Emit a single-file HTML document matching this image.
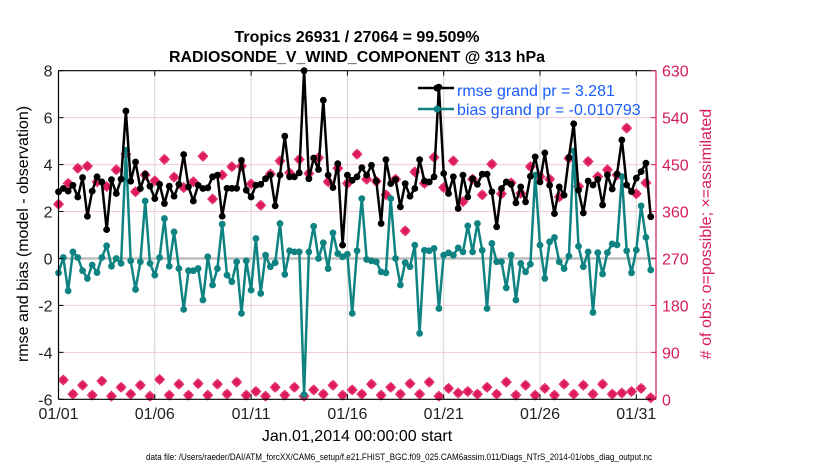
<!DOCTYPE html>
<html><head><meta charset="utf-8"><style>
html,body{margin:0;padding:0;background:#fff;}
svg{display:block;font-family:"Liberation Sans",Arial,sans-serif;}
</style></head><body>
<svg id="chart" width="830" height="470" viewBox="0 0 830 470" xmlns="http://www.w3.org/2000/svg">
<text x="357" y="42" text-anchor="middle" font-size="16" font-weight="bold">Tropics 26931 / 27064 = 99.509%</text>
<text x="357" y="62" text-anchor="middle" font-size="16" font-weight="bold" textLength="376" lengthAdjust="spacingAndGlyphs">RADIOSONDE_V_WIND_COMPONENT @ 313 hPa</text>
<g id="grid"></g>
<g id="series"></g>
<g id="axes"></g>
<text transform="translate(28,234) rotate(-90)" text-anchor="middle" font-size="16">rmse and bias (model - observation)</text>
<text transform="translate(711,234) rotate(-90)" text-anchor="middle" font-size="16" fill="#d81b5a">#  of obs: o=possible; ×=assimilated</text>
<text x="357" y="441" text-anchor="middle" font-size="16">Jan.01,2014 00:00:00 start</text>
<text x="399" y="460" text-anchor="middle" font-size="9" textLength="506" lengthAdjust="spacingAndGlyphs">data file: /Users/raeder/DAI/ATM_forcXX/CAM6_setup/f.e21.FHIST_BGC.f09_025.CAM6assim.011/Diags_NTrS_2014-01/obs_diag_output.nc</text>
<g>
<line x1="418" y1="88" x2="454" y2="88" stroke="#000" stroke-width="2.5"/>
<circle cx="437" cy="88" r="3.5" fill="#000"/>
<text x="457" y="96" font-size="16" fill="#1a5cff">rmse grand pr = 3.281</text>
<line x1="418" y1="109" x2="454" y2="109" stroke="#0f8282" stroke-width="2.5"/>
<circle cx="437" cy="109" r="3.5" fill="#0f8282"/>
<text x="457" y="115" font-size="16" fill="#1a5cff">bias grand pr = -0.010793</text>
</g>
</svg>
<script>
// ---- data (6-hourly, starting Jan 01 00Z) ----
const rmse = [2.84,2.98,2.87,3.12,2.62,3.45,1.80,2.87,3.48,3.26,1.23,3.36,2.77,3.38,6.28,3.29,4.11,2.98,3.59,3.08,2.55,3.16,2.34,3.08,2.65,3.16,4.43,3.05,2.45,3.12,2.98,3.01,3.48,3.55,1.80,2.99,2.99,2.99,4.18,2.91,2.62,3.12,
3.16,3.40,3.55,2.24,3.55,5.21,3.48,3.48,3.65,8.0,3.40,4.28,3.79,6.74,3.55,3.02,4.04,0.57,3.55,3.33,3.48,3.87,3.55,3.97,3.30,1.49,4.21,3.19,3.36,2.20,3.19,2.65,2.98,4.21,3.30,3.26,3.48,7.3,3.62,2.77,
3.48,2.13,3.55,2.62,3.40,3.16,3.59,3.59,2.84,1.35,2.98,3.26,3.16,2.37,3.05,2.41,3.50,4.33,3.26,4.50,3.12,1.91,3.05,2.70,4.30,5.74,2.91,1.94,3.30,
3.13,3.37,2.28,3.56,2.96,3.60,5.05,3.13,2.85,3.42,3.70,4.06,1.78];
const bias = [-0.61,0.04,-1.38,0.28,0.04,-0.52,-0.85,-0.28,-0.60,0.04,0.54,-0.33,0,-0.21,4.61,-0.10,-1.32,-0.14,2.45,-0.21,-0.71,0.04,1.70,-0.33,1.13,-0.43,-2.17,-0.52,-0.52,-0.43,-1.77,0.07,-1.13,-0.43,1.46,-0.71,-0.99,-0.14,-2.34,-0.10,-1.35,0.85,
-1.49,0.14,-0.35,-0.18,1.49,-0.68,0.33,0.28,0.28,-5.8,0.28,1.37,0,0.67,-0.43,1.09,0.21,0.07,0.18,-2.34,0.33,2.55,-0.04,-0.10,-0.14,-0.57,-0.61,2.55,0,-1.13,-0.18,-0.35,0.57,-3.19,0.35,0.33,0.43,-2.13,0.14,0.24,
0.14,0.45,0.28,1.39,0.28,1.49,0.35,-2.13,0.64,-0.14,-0.14,-1.25,0.14,-1.77,-0.21,-0.57,-0.24,3.55,0.57,-0.85,0.71,0.89,-0.14,-0.43,0.10,4.58,0.52,-0.35,0.28,
-2.30,0.25,-0.66,0.25,0.62,0.58,3.49,0.33,-0.61,0.36,2.24,0.90,-0.49];
// obs counts at 00Z/12Z (even steps) and 06Z/18Z (odd steps)
const obsMain = [374,414,443,447,417,408,440,470,398,430,419,460,426,406,417,466,384,430,446,447,413,372,
432,457,434,460,433,463,417,443,414,470,422,418,392,422,323,436,414,464,406,
457,379,422,392,451,394,415,395,446,427,422,388,462,408,456,427,440,430,520,394,415];
const obsOff = [37,10,27,8,35,6,23,10,27,6,38,8,29,8,30,8,29,10,33,8,15,6,23,8,23,6,18,10,27,8,18,10,29,8,23,10,30,10,33,6,21,12,15,10,23,10,33,8,27,8,21,8,29,10,27,10,29,10,12,15,21,3];
const yTicks = [8,6,4,2,0,-2,-4,-6];
const rTicks = [630,540,450,360,270,180,90,0];
const dateTicks = ["01/01","01/06","01/11","01/16","01/21","01/26","01/31"];
const dateTickDays = [0,5,10,15,20,25,30];

// ---- scales ----
const L=58.5, R=656, T=70.7, B=399.3, PXDAY=19.26;
const xDay = d => L + d*PXDAY;
const xStep = i => xDay(i*0.25);
const yL = v => T + (8 - v)*(B-T)/14;
const yR = c => B - c*(B-T)/630;
const NS="http://www.w3.org/2000/svg";
function mk(parent, tag, attrs){const e=document.createElementNS(NS,tag);for(const k in attrs)e.setAttribute(k,attrs[k]);parent.appendChild(e);return e;}
const grid=document.getElementById('grid'), ser=document.getElementById('series'), ax=document.getElementById('axes');

// grid
yTicks.forEach(v=>{ if(v===8||v===-6) return;
  const g=mk(grid,'line',{x1:L,x2:R,y1:yL(v),y2:yL(v),stroke:'#f3cad9','stroke-width':1});
  
  
});
dateTickDays.forEach(d=>{ if(d===0) return;
  const g=mk(grid,'line',{x1:xDay(d),x2:xDay(d),y1:T,y2:B,stroke:'#d4d4d4','stroke-width':1});
  
  
});
const z=mk(grid,'line',{x1:L,x2:R,y1:yL(0),y2:yL(0),stroke:'#bdbdbd','stroke-width':2.5});



// obs markers
function obsMarker(x,y){
  const g=mk(ser,'g',{});
  
  
  mk(g,'path',{d:`M${x} ${y-5.5}L${x+5.5} ${y}L${x} ${y+5.5}L${x-5.5} ${y}Z`,fill:'#dc1a5c'});
  mk(g,'circle',{cx:x,cy:y,r:3.8,fill:'none',stroke:'#e8407a','stroke-width':1});
}
obsMain.forEach((c,k)=>obsMarker(xStep(2*k),yR(c)));
obsOff.forEach((c,k)=>obsMarker(xStep(2*k+1),yR(c)));

// lines
function series(vals,color,name){
  const p=mk(ser,'polyline',{points:vals.map((v,i)=>xStep(i).toFixed(1)+','+yL(v).toFixed(1)).join(' '),fill:'none',stroke:color,'stroke-width':2.5,'stroke-linejoin':'round'});
  
  
  vals.forEach((v,i)=>{
    const c=mk(ser,'circle',{cx:xStep(i),cy:yL(v),r:3.4,fill:color});
    
    
  });
}
series(bias,'#0f8282','bias');
series(rmse,'#000000','rmse');

// axes
const fr=[['M'+L+' '+T+'H'+R,'#000','top-axis-line'],['M'+L+' '+B+'H'+R,'#000','x-axis-line'],['M'+L+' '+T+'V'+B,'#000','left-axis-line'],['M'+R+' '+T+'V'+B,'#d81b5a','right-axis-line']];
fr.forEach(f=>{const p=mk(ax,'path',{d:f[0],stroke:f[1],'stroke-width':1.2,fill:'none'});
  
  });
yTicks.forEach(v=>{
  mk(ax,'line',{x1:L,x2:L+5,y1:yL(v),y2:yL(v),stroke:'#000'});
  const t=mk(ax,'text',{x:L-6,y:yL(v)+6,'text-anchor':'end','font-size':16,fill:'#222'});
  t.textContent=v;
  
  
});
rTicks.forEach(c=>{
  mk(ax,'line',{x1:R-5,x2:R,y1:yR(c),y2:yR(c),stroke:'#d81b5a'});
  const t=mk(ax,'text',{x:R+6,y:yR(c)+6,'font-size':16,fill:'#d81b5a'});
  t.textContent=c;
  
  
});
dateTicks.forEach((lab,k)=>{
  const x=xDay(dateTickDays[k]);
  mk(ax,'line',{x1:x,x2:x,y1:B,y2:B-5,stroke:'#000'});
  mk(ax,'line',{x1:x,x2:x,y1:T,y2:T+5,stroke:'#000'});
  const t=mk(ax,'text',{x:x,y:419,'text-anchor':'middle','font-size':16,fill:'#222'});
  t.textContent=lab;
  
  
});
</script>
</body></html>
